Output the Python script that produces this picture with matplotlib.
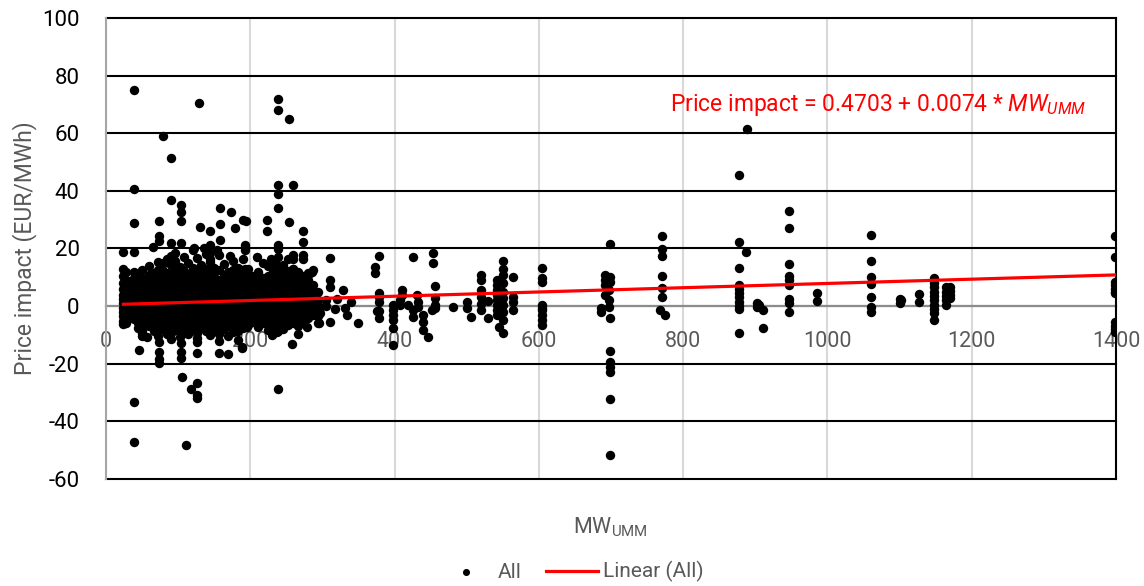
import matplotlib.pyplot as plt
import numpy as np

# dense cluster of small outages: one MW value per column, many price impacts
col_mw = [24, 27, 31, 35, 39, 44, 50, 55, 60, 66, 72, 78, 84, 90, 96, 102, 108, 114,
          120, 126, 132, 138, 144, 150, 157, 163, 169, 176, 183, 190, 197, 204, 211,
          218, 225, 232, 238, 245, 252, 259, 266, 273, 280, 287, 294]
col_impact = [
    [13, 10.5, 8, 6, 4, 2.5, 1, -0.5, -2, -3.5, -5, -6.2],
    [11.8, 9, 7, 5, 3, 1.5, 0, -1.5, -3, -4.5, -6],
    [8.5, 5.5, 3.2, 1.2, -0.8, -2.6, -4.2],
    [7.2, 4.8, 2.4, 0.5, -1.6, -3.8],
    [12, 9.6, 6.2, 3.8, 1.8, -0.2, -2.4, -4.6],
    [11, 8.4, 5.6, 3, 0.8, -1.2, -3.3, -5.7, -7.5],
    [12.6, 9.8, 6.8, 4.1, 2, -0.4, -2.8, -5, -8.6, -10.5],
    [9, 6.3, 3.6, 1.3, -1, -3.5, -6.2],
    [13.8, 10.8, 7.4, 4.8, 2.6, 0.2, -2.2, -4.4, -7],
    [11.6, 8.6, 6, 3.4, 1, -1.4, -3.8, -6.4, -8.8],
    [15.2, 12.4, 9.4, 6.6, 4.2, 1.8, -0.6, -3, -5.6, -8, -10.2],
    [13, 10, 7.2, 4.4, 2.2, -0.2, -2.6, -5, -7.8],
    [16.5, 11.6, 8.8, 6, 3.2, 0.8, -1.8, -4.2, -6.8, -9.6],
    [14.4, 10.6, 7.8, 5.2, 2.8, 0.4, -2, -4.6, -7.4, -11.5],
    [18.5, 15.6, 12.6, 9.6, 6.8, 4, 1.6, -0.8, -3.2, -5.8, -8.4],
    [13.6, 10.4, 7.6, 5, 2.4, 0, -2.4, -5, -7.8, -10.8],
    [17.2, 12.2, 9.2, 6.4, 3.8, 1.2, -1.2, -3.8, -6.4, -9],
    [15, 11, 8.2, 5.6, 3, 0.6, -1.8, -4.4, -7, -9.8],
    [19.5, 13.4, 10.2, 7.2, 4.6, 2, -0.4, -2.8, -5.4, -8.2],
    [16.8, 12, 9, 6.2, 3.6, 1.2, -1.4, -4, -6.6, -9.4, -11],
    [14.2, 10.8, 7.8, 5, 2.6, 0, -2.4, -5, -7.6],
    [18, 12.8, 9.6, 6.8, 4.2, 1.6, -1, -3.6, -6.2, -8.8],
    [15.4, 11.4, 8.4, 5.6, 3, 0.4, -2.2, -4.8, -7.4, -10],
    [13.2, 10, 7.2, 4.6, 2, -0.6, -3.2, -5.8, -8.4],
    [17.6, 12.4, 9.2, 6.4, 3.8, 1.2, -1.4, -4, -6.8, -9.6, -12],
    [14.6, 10.8, 7.8, 5.2, 2.6, 0, -2.6, -5.2, -8],
    [11.8, 8.8, 6, 3.4, 0.8, -1.8, -4.4, -7, -10.4],
    [15.8, 12.6, 9.4, 6.6, 4, 1.4, -1.2, -3.8, -6.4, -9],
    [13.4, 10.2, 7.2, 4.6, 2, -0.6, -3.2, -5.8, -8.6, -11.6],
    [16.2, 11.2, 8.2, 5.4, 2.8, 0.2, -2.4, -5, -7.6],
    [12.8, 9.6, 6.6, 3.8, 1.2, -1.4, -4, -6.6],
    [10.4, 7.4, 4.8, 2.2, -0.4, -3, -5.4],
    [12, 8.6, 5.8, 3.2, 0.6, -2, -4.6, -7.2],
    [9.8, 7, 4.4, 1.8, -0.8, -3.4, -6],
    [13.8, 10.6, 7.8, 5, 2.4, -0.2, -2.8, -5.4, -8.2],
    [15, 11.8, 9, 6.2, 3.6, 1, -1.6, -4.2, -6.8, -9.4],
    [17, 12.6, 9.8, 7, 4.4, 1.8, -0.8, -3.4, -6, -8.6],
    [14.4, 11, 8.2, 5.4, 2.8, 0.2, -2.4, -5, -7.8],
    [16.4, 12.2, 9.2, 6.4, 3.8, 1.2, -1.4, -4, -6.6],
    [13, 10, 7.2, 4.6, 2, -0.6, -3.2, -5.8],
    [11.8, 8.8, 6, 3.4, 0.8, -1.8, -4.4, -7],
    [10.4, 7.6, 4.8, 2.2, -0.4, -3, -5.6],
    [9, 6.2, 3.6, 1, -1.6, -4.2],
    [7.4, 4.8, 2.2, -0.4, -3],
    [5, 2, -0.8, -3.6, -6],
]

# scattered points below 300 MW
mw_small = [39, 129, 79, 90, 39, 39, 24, 39, 238, 238, 253, 238, 238, 259, 238, 90,
            104, 104, 104, 74, 74, 74, 65, 90, 104, 90, 79, 130, 144, 158, 158, 158,
            173, 179, 190, 194, 193, 193, 172, 122, 136, 144, 144, 144, 154, 130, 144,
            184, 193, 209, 209, 193, 173, 218, 228, 223, 223, 253, 238, 238, 238, 259,
            259, 273, 273, 273, 273, 253, 259, 280, 286,
            46, 74, 74, 74, 74, 104, 104, 104, 126, 126, 157, 169, 189, 258, 105, 126,
            118, 126, 126, 238, 39, 39, 111, 90, 57, 50, 26, 195, 188, 230, 237, 266, 278]
imp_small = [75, 70.5, 59, 51.5, 40.6, 29, 18.7, 18.7, 72, 68, 65, 42, 39, 42, 34, 37,
             35, 32.5, 29.5, 29.5, 24.5, 22.5, 20.5, 22, 21.8, 17.3, 14.8, 27.5, 26, 34, 28.5, 23,
             32.6, 27, 29.8, 29.5, 21.2, 19.5, 17.3, 20, 20, 21.2, 18.3, 16.5, 19.4, 13.2, 13,
             13, 13, 17, 10.7, 10.7, 11.6, 14.8, 16.3, 30, 26, 29.3, 21.3, 19.8, 14, 17.7,
             16.3, 26, 22.3, 17.7, 16.3, 10.7, 13, 11.4, 11.8,
             -15.3, -12.5, -16, -19.8, -18.4, -12.8, -16, -18, -12.5, -16.3, -16.3, -16.7, -14.2, -13.2, -24.7, -26.7,
             -28.8, -30.9, -32, -28.8, -33.3, -47.2, -48.3, -9.4, -10.8, -9.4, -6, -7.3, -14.6, -10, -9, -9.7, -7.3]

# 300-700 MW
mw_mid = [295, 310, 297, 297, 310, 310, 328, 331, 334, 349, 340, 310, 287, 283, 305, 305, 318, 320,
          378, 373, 373, 379, 379, 379, 375, 379, 379, 398, 398, 398, 398, 398, 398, 410, 410, 408, 408,
          419, 425, 425, 431, 432, 432, 425, 439, 439, 439, 446, 453, 453, 456, 456, 456, 452, 456,
          481, 500, 500, 506, 520, 520, 520, 520, 520, 520, 529, 529,
          542, 542, 542, 542, 542, 542, 542, 542, 545, 550, 550, 550, 550, 550, 550, 550, 550, 550, 550,
          564, 564, 564, 564, 604, 604, 604, 604, 604, 604, 604, 604, 604,
          699, 692, 699, 692, 699, 692, 697, 692, 697, 686, 697, 686, 699, 699, 699, 699, 699, 699, 699]
imp_mid = [-6, -5.6, -0.3, -2.4, 9, 6.6, 5.5, -0.7, -3, -6, 1.4, 16.7, 12.5, 11.5, 2, 0, -1, 2.5,
           17.4, 13.5, 11.5, 4.5, 3.1, 1.4, -1.7, -1.7, -4.2, 0.3, -1.4, -3.1, -4.9, -7.7, -13.5, 5.6, 3.8, 2, 0.3,
           0.3, -1.4, -3.8, 3.8, 1.4, -0.3, 17, -3.1, -5.6, -8.3, -10.8, 18.4, 14.9, 6.9, 2.8, 0.3, -1.4, -0.5,
           -0.3, 1.4, -0.7, -3.8, 10.8, 9, 5.6, 3.1, -1.4, 0.8, 1.7, -4.2,
           9, 7.3, 5.6, 3.8, 2.1, 0.3, -1.4, -3.1, -7.3, 15.6, 13, 10.7, 7.9, 5, 2.7, 0.4, -1.9, -4.8, -9.4,
           10.2, 3.3, 1.6, -1.3, 13.2, 9.7, 8.4, 0.4, -1.4, -3.1, -4.9, -6.6, -0.5,
           21.5, 10.8, 10.1, 9, 8.3, 7.3, 5.6, 3.8, 2.1, -0.7, -0.3, -2.1, -4.2, -15.6, -19.4, -21.2, -22.8, -32.3, -51.7]

# above 700 MW
mw_large = [770, 770, 770, 770, 770, 770, 768, 775,
            877, 888, 877, 887, 877, 877, 877, 877, 877, 877, 877, 877, 877,
            902, 902, 905, 911, 911,
            947, 947, 947, 947, 947, 947, 947, 947, 947, 985, 985,
            1060, 1060, 1060, 1060, 1060, 1060, 1060, 1100, 1100, 1102, 1127, 1127,
            1148, 1148, 1148, 1148, 1148, 1148, 1148, 1148, 1148, 1148,
            1165, 1165, 1165, 1165, 1165, 1170, 1170, 1170, 1170,
            1398, 1398, 1398, 1398, 1398, 1398, 1398, 1398, 1398, 1398, 1398]
imp_large = [24.3, 19.8, 17.4, 10.4, 6.2, 3.1, -1.4, -3.1,
             45.5, 61.4, 22.2, 18.8, 13.2, 7.3, 6, 4.5, 3, 1.5, 0, -1, -9.4,
             1, -0.3, 0.5, -1.4, -7.7,
             33, 27, 14.6, 10.4, 9, 7.5, 2.4, 1, -2.1, 4.5, 1.7,
             24.7, 15.6, 10.1, 7.6, 3.1, -0.3, -2, 2.4, 1, 2, 4.2, 1.4,
             9.7, 8, 6.5, 5, 3.5, 2, 0.5, -1, -2.5, -4.9,
             6.7, 5, 3.5, 2, 0.3, 6.5, 5.2, 4, 2.8,
             24.3, 17, 8.3, 7.2, 6, 5, 4.5, -5.6, -7, -8, -9]

intercept = 0.4703
slope = 0.0074

mw = np.concatenate([np.repeat(col_mw, [len(c) for c in col_impact]),
                     mw_small, mw_mid, mw_large]).astype(float)
impact = np.concatenate([np.concatenate(col_impact), imp_small, imp_mid, imp_large])

plt.rcParams['font.family'] = ['Roboto', 'DejaVu Sans']
plt.rcParams['mathtext.fontset'] = 'custom'
plt.rcParams['mathtext.rm'] = 'Roboto'
plt.rcParams['mathtext.it'] = 'Roboto:italic'
plt.rcParams['axes.unicode_minus'] = False

fig = plt.figure(figsize=(11.44, 5.86), dpi=100)
ax = fig.add_axes([0.0927, 0.1826, 0.8828, 0.7867])

ax.scatter(mw, impact, s=46, color='black', zorder=3, label='All', linewidths=0)
xs = np.array([mw.min(), 1400])
ax.plot(xs, intercept + slope * xs, color='#ff0000', lw=2.3, zorder=4, label='Linear (All)')

ax.set_xlim(0, 1400)
ax.set_ylim(-60, 100)
ax.set_xticks(np.arange(0, 1401, 200))
ax.set_yticks(np.arange(-60, 101, 20))

ax.yaxis.grid(True, color='black', lw=1.5, zorder=1)
ax.xaxis.grid(True, color='#d9d9d9', lw=1.5, zorder=0)
for gl in ax.get_ygridlines():
    gl.set_clip_on(False)

ax.spines['top'].set_visible(False)
ax.spines['right'].set_color('black')
ax.spines['right'].set_linewidth(1.5)
ax.spines['left'].set_color('#a6a6a6')
ax.spines['left'].set_linewidth(1.5)
ax.spines['bottom'].set_position(('data', 0))
ax.spines['bottom'].set_color('#8c8c8c')
ax.spines['bottom'].set_linewidth(1.5)
ax.spines['bottom'].set_zorder(2)

ax.tick_params(axis='x', length=0, pad=18, labelsize=15.5, labelcolor='#595959')
ax.tick_params(axis='y', length=0, pad=19, labelsize=16, labelcolor='black')

ax.set_ylabel('Price impact (EUR/MWh)', fontsize=16.5, color='#595959', labelpad=4)
fig.text(0.534, 0.1, r'MW$_{\mathrm{UMM}}$', fontsize=15.5, color='#595959', ha='center', va='center')

ax.text(0.558, 0.811, r'Price impact = 0.4703 + 0.0074 * $MW_{UMM}$', transform=ax.transAxes,
        color='#ff0000', fontsize=16.5, ha='left', va='center')

fig.legend(loc='center', bbox_to_anchor=(0.5, 0.024), ncol=2, frameon=False, fontsize=15,
           labelcolor='#595959', handlelength=2.5, handletextpad=0.25, columnspacing=1.2,
           markerscale=0.75)

fig.savefig('out.png', dpi=100)
